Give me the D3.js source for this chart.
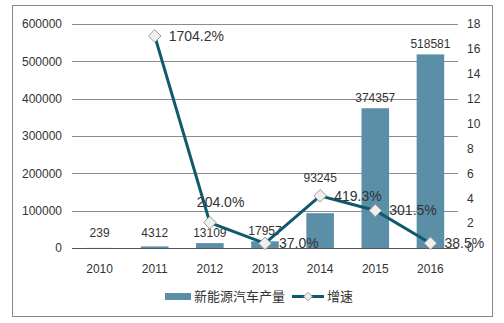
<!DOCTYPE html>
<html>
<head>
<meta charset="utf-8">
<script src="https://cdn.jsdelivr.net/npm/d3@7"></script>
<style>
  html, body { margin: 0; padding: 0; background: #fff; }
  svg { display: block; font-family: "Liberation Sans", Arial, "Noto Sans CJK SC", sans-serif; }
</style>
</head>
<body>
<svg id="chart" width="504" height="323"></svg>
<script>
// Annual new-energy vehicle output and year-on-year growth
const years = ["2010", "2011", "2012", "2013", "2014", "2015", "2016"];
const output = [239, 4312, 13109, 17957, 93245, 374357, 518581];
const growth = [null, 1704.2, 204.0, 37.0, 419.3, 301.5, 38.5];   // percent
const leftTicks = [0, 100000, 200000, 300000, 400000, 500000, 600000];
const rightTicks = [0, 2, 4, 6, 8, 10, 12, 14, 16, 18];
const seriesNames = ["新能源汽车产量", "增速"];

const svg = d3.select("#chart");
const barColor = "#5b8fa7";
const lineColor = "#0e5a6c";

const plot = { left: 72, right: 458, top: 24, bottom: 248 };

// outer frame
svg.append("rect")
  .attr("x", 12.5).attr("y", 5.5)
  .attr("width", 480).attr("height", 311)
  .attr("fill", "none").attr("stroke", "#8a8a8a").attr("stroke-width", 1);

const x = d3.scaleBand().domain(years).range([plot.left, plot.right]).paddingInner(0.5).paddingOuter(0.25);
const xc = d => x(d) + x.bandwidth() / 2;
const yL = d3.scaleLinear().domain([0, 600000]).range([plot.bottom, plot.top]);
const yR = d3.scaleLinear().domain([0, 18]).range([plot.bottom, plot.top]);

// horizontal gridlines
svg.append("g").selectAll("line").data(leftTicks.slice(1)).join("line")
  .attr("x1", plot.left).attr("x2", plot.right)
  .attr("y1", d => Math.round(yL(d)) + 0.5).attr("y2", d => Math.round(yL(d)) + 0.5)
  .attr("stroke", "#8c8c8c").attr("stroke-width", 1);

// left axis labels
const axL = svg.append("g").attr("transform", `translate(${plot.left},0)`)
  .call(d3.axisLeft(yL).tickValues(leftTicks).tickSize(0).tickPadding(10).tickFormat(d3.format("d")));
axL.select(".domain").remove();
axL.selectAll("text").attr("font-size", 12).attr("fill", "#333").attr("font-family", null);

// right axis labels
const axR = svg.append("g").attr("transform", `translate(${plot.right},0)`)
  .call(d3.axisRight(yR).tickValues(rightTicks).tickSize(0).tickPadding(9).tickFormat(d3.format("d")));
axR.select(".domain").remove();
axR.selectAll("text").attr("font-size", 12).attr("fill", "#333").attr("font-family", null);

// bars
svg.append("g").selectAll("rect").data(years).join("rect")
  .attr("x", d => x(d))
  .attr("width", x.bandwidth())
  .attr("y", (d, i) => yL(output[i]))
  .attr("height", (d, i) => plot.bottom - yL(output[i]))
  .attr("fill", barColor);

// baseline
svg.append("line")
  .attr("x1", plot.left).attr("x2", plot.right)
  .attr("y1", plot.bottom + 0.5).attr("y2", plot.bottom + 0.5)
  .attr("stroke", "#555").attr("stroke-width", 1);

// x axis labels
const axB = svg.append("g").attr("transform", `translate(0,${plot.bottom})`)
  .call(d3.axisBottom(x).tickSize(0).tickPadding(16));
axB.select(".domain").remove();
axB.selectAll("text").attr("font-size", 12).attr("fill", "#333").attr("font-family", null);

// growth points (plotted on the right axis as percent / 100)
const pts = years.map((d, i) => ({ year: d, v: growth[i] })).filter(p => p.v !== null);

// bar value labels; the 2014 one is lifted clear of the growth marker
svg.append("g").selectAll("text").data(years).join("text")
  .attr("x", d => xc(d))
  .attr("y", (d, i) => {
    if (d === "2014") return yR(growth[i] / 100) - 14;
    return Math.min(yL(output[i]) - 6, plot.bottom - 11);
  })
  .attr("text-anchor", "middle")
  .attr("font-size", 12).attr("fill", "#333")
  .text((d, i) => output[i]);

// growth line
svg.append("path").datum(pts)
  .attr("d", d3.line().x(p => xc(p.year)).y(p => yR(p.v / 100)))
  .attr("fill", "none").attr("stroke", lineColor).attr("stroke-width", 3);

const diamond = d3.symbol().type(d3.symbolDiamond2).size(100);
svg.append("g").selectAll("path").data(pts).join("path")
  .attr("transform", p => `translate(${xc(p.year)},${yR(p.v / 100)})`)
  .attr("d", diamond)
  .attr("fill", "#eef0ee").attr("stroke", "#9a9a9a").attr("stroke-width", 1);

// growth labels, right of each point (the 2012 one sits above)
svg.append("g").selectAll("text").data(pts).join("text")
  .attr("x", p => p.year === "2012" ? xc(p.year) - 13 : xc(p.year) + 14)
  .attr("y", p => p.year === "2012" ? yR(p.v / 100) - 16 : yR(p.v / 100) + 5)
  .attr("font-size", 14).attr("fill", "#333")
  .text(p => d3.format(".1f")(p.v) + "%");

// legend
const lg = svg.append("g");
lg.append("rect").attr("x", 165).attr("y", 293).attr("width", 26).attr("height", 7).attr("fill", barColor);
lg.append("text").attr("x", 194).attr("y", 301).attr("font-size", 13).attr("fill", "#333").text(seriesNames[0]);
lg.append("line").attr("x1", 292).attr("x2", 324).attr("y1", 296.5).attr("y2", 296.5)
  .attr("stroke", lineColor).attr("stroke-width", 3);
lg.append("path").attr("transform", "translate(308,296.5)").attr("d", d3.symbol().type(d3.symbolDiamond2).size(45))
  .attr("fill", "#eef0ee").attr("stroke", "#9a9a9a");
lg.append("text").attr("x", 327).attr("y", 301).attr("font-size", 13).attr("fill", "#333").text(seriesNames[1]);
</script>
</body>
</html>
